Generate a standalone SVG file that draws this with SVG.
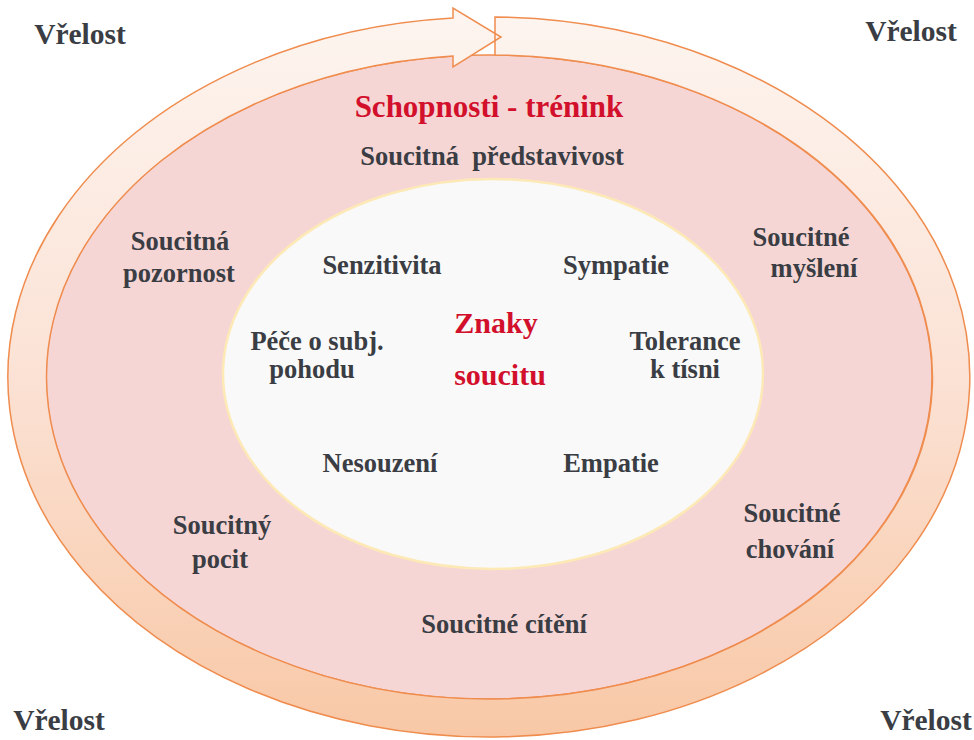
<svg xmlns="http://www.w3.org/2000/svg" width="974" height="740" viewBox="0 0 974 740">
<defs>
<linearGradient id="ringGrad" x1="0" y1="0" x2="0" y2="1">
<stop offset="0" stop-color="#fdf5f0"/>
<stop offset="0.5" stop-color="#fbe2d5"/>
<stop offset="1" stop-color="#f8c8a6"/>
</linearGradient>
<style>
.t{font-family:"Liberation Serif","Times New Roman",serif;font-weight:bold;font-size:26.5px;fill:#3a3d43;text-anchor:middle}
.v{font-size:29.5px}
.r{font-size:30px;fill:#d2102c}
.h{font-size:31px}
</style>
</defs>
<rect width="974" height="740" fill="#ffffff"/>
<g id="inner-field">
<ellipse cx="489" cy="377" rx="443" ry="322" fill="#f6d6d5" stroke="#ef8c4e" stroke-width="1.5"/>
</g>
<g id="connectors">
<path id="cycle-arrow" d="M495,17.03 A481,360 0 1 1 453,18 L453,8 L501,37 L453,67 L453,56.1 A443,322 0 1 0 495,55.03 Z" fill="url(#ringGrad)" stroke="#ef8c4e" stroke-width="1.5" stroke-linejoin="miter"/>
</g>
<g id="core">
<ellipse cx="493" cy="374" rx="270" ry="195" fill="#f9f9f9" stroke="#fde9b6" stroke-width="2.5"/>
</g>
<g id="vrelost-tl"><text class="t v" x="80" y="44">Vřelost</text></g>
<g id="vrelost-tr"><text class="t v" x="911" y="41">Vřelost</text></g>
<g id="vrelost-bl"><text class="t v" x="59" y="730">Vřelost</text></g>
<g id="vrelost-br"><text class="t v" x="926" y="730">Vřelost</text></g>
<g id="schopnosti"><text class="t r h" x="489" y="117">Schopnosti - trénink</text></g>
<g id="predstavivost"><text class="t" x="492" y="165">Soucitná&#160; představivost</text></g>
<g id="pozornost"><text class="t" x="180" y="250">Soucitná</text><text class="t" x="179" y="282">pozornost</text></g>
<g id="mysleni"><text class="t" x="801" y="246">Soucitné</text><text class="t" x="814" y="277">myšlení</text></g>
<g id="senzitivita"><text class="t" x="382" y="274">Senzitivita</text></g>
<g id="sympatie"><text class="t" x="616" y="274">Sympatie</text></g>
<g id="pece"><text class="t" x="317" y="350">Péče o subj.</text><text class="t" x="312" y="378">pohodu</text></g>
<g id="znaky"><text class="t r" x="496" y="333">Znaky</text><text class="t r" x="500" y="385">soucitu</text></g>
<g id="tolerance"><text class="t" x="685" y="350">Tolerance</text><text class="t" x="685" y="378">k tísni</text></g>
<g id="nesouzeni"><text class="t" x="380" y="472">Nesouzení</text></g>
<g id="empatie"><text class="t" x="611" y="472">Empatie</text></g>
<g id="pocit"><text class="t" x="222" y="534">Soucitný</text><text class="t" x="220" y="568">pocit</text></g>
<g id="chovani"><text class="t" x="792" y="522">Soucitné</text><text class="t" x="790" y="558">chování</text></g>
<g id="citeni"><text class="t" x="504" y="633">Soucitné cítění</text></g>
</svg>
